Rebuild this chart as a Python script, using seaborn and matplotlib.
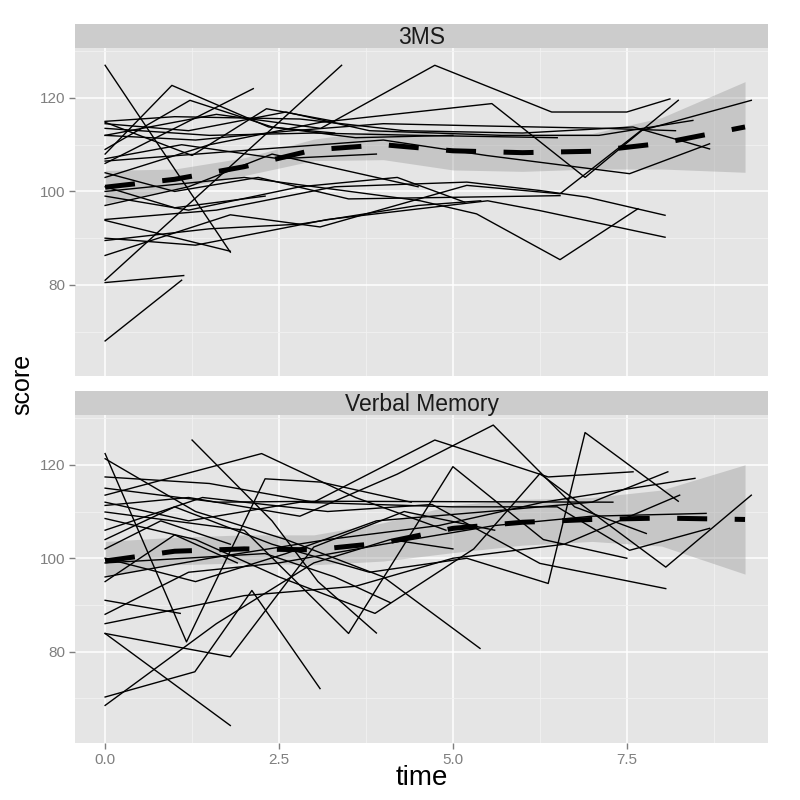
import matplotlib
matplotlib.use("Agg")
import matplotlib.pyplot as plt
import pandas as pd
import seaborn as sns

# 3MS: one list of visit times and scores per subject
ms_times = [
    [0, 1.8], [0, 1.13], [0, 1.1], [0, 3.4], [0, 0.96, 2.35, 3.3], [0, 2.13],
    [0, 1.22, 2.4, 3.6, 5.0], [0, 1.25, 2.32, 3.3],
    [0, 1.6, 3.1, 4.74, 6.42, 7.5, 8.12], [0, 1.5, 3.1, 5.56, 6.9, 8.24],
    [0, 2.2, 4.0, 5.48, 7.54, 8.69], [0, 2.0, 4.53, 5.34, 6.54, 7.66],
    [0, 1.6, 3.3, 5.2, 6.25, 6.92, 8.05], [0, 1.3, 3.2, 5.5, 6.25, 8.05],
    [0, 1.8, 3.09, 5.2, 6.54, 7.7, 9.29], [0, 1.0, 2.8, 4.3, 6.0, 7.59, 8.69],
    [0, 1.2, 2.6, 3.8, 5.7, 7.1, 8.45], [0, 1.5, 3.0, 4.5, 6.5],
    [0, 1.0, 2.2, 3.5, 6.54], [0, 1.2, 2.8, 4.2, 5.17], [0, 1.8], [0, 1.0, 2.3],
    [0, 1.1, 2.5, 3.9], [0, 1.5, 2.8, 4.5, 5.4], [0, 1.3, 2.7, 4.0, 5.5, 7.2, 8.2],
    [0, 1.2, 2.4, 3.6, 4.5],
]
ms_scores = [
    [127, 87], [80.5, 82], [68, 81], [81, 127], [108, 122.7, 113.8, 112.5], [106, 122],
    [109, 119.5, 113.8, 111.5, 112], [114.8, 107.7, 117.7, 115],
    [112, 116.5, 113.5, 127, 117, 117, 119.8], [103, 110, 114.8, 118.8, 103, 119.5],
    [106.5, 109, 111, 107.7, 103.8, 110.2], [100, 103, 98, 95.2, 85.4, 96.3],
    [94, 96, 101, 102, 100.2, 98.8, 94.9], [90, 88.5, 94, 98, 95.9, 90.2],
    [86.3, 95, 92.4, 101.3, 99.5, 113, 119.5], [115, 116, 115.5, 113, 112.5, 113.8, 109.1],
    [114.5, 113, 117, 113, 112, 112, 115.2], [113.5, 112, 112.5, 112, 111.5],
    [104, 100, 103, 98.4, 99.1], [99, 96, 101, 103, 97.7], [93.8, 87.2], [101, 96.5, 99],
    [107, 110, 107, 108], [89.5, 92, 93, 97, 98], [112, 111, 113, 114.5, 114, 113.5, 113],
    [97, 101, 108, 104, 101],
]

# Verbal Memory
vm_times = [
    [0, 1.17, 2.3, 3.1, 4.4], [0, 2.25, 3.6, 4.9], [1.25, 2.4, 3.06, 3.9], [0, 1.8],
    [0, 1.29, 2.11, 3.09], [0, 1.6, 3.0, 4.1, 5.0], [0, 1.8, 3.0, 4.3, 5.6], [0, 1.08],
    [0, 1.3, 2.6, 4.0, 5.39], [0, 1.5, 3.0, 4.74, 6.37, 7.59],
    [0, 1.2, 2.8, 4.2, 5.58, 6.75, 7.78], [0, 2.0, 3.5, 5.0, 6.3, 7.5],
    [0, 1.3, 2.5, 3.88, 5.3, 6.25, 8.06, 9.29], [0, 1.0, 2.4, 3.8, 5.2, 6.37, 6.9, 8.24],
    [0, 1.4, 3.2, 4.7, 6.25, 8.06], [0, 1.2, 2.8, 5.0, 6.5, 7.54, 8.69],
    [0, 1.3, 2.6, 3.9, 5.5, 7.0, 8.09], [0, 1.5, 3.2, 4.8, 6.3, 8.48],
    [0, 1.2, 2.5, 4.0, 5.6, 7.0, 8.64], [0, 2.0, 3.6, 5.0, 6.6, 8.26], [0, 1.0, 1.9],
    [0, 1.6, 3.1, 7.3], [0, 0.8, 1.8], [0, 2.3, 3.3, 4.1],
]
vm_scores = [
    [122.4, 82.1, 117, 116.3, 112], [113.5, 122.4, 113, 106], [125.3, 108, 95, 84], [83.9, 64.2],
    [70.3, 75.7, 93.1, 72.1], [68.5, 86, 99, 104, 102], [83.9, 78.9, 102.4, 110, 106], [91, 88.2],
    [121.3, 110, 104, 96, 80.7], [117.4, 116, 112, 125.3, 117.4, 118.5],
    [111.3, 113, 109, 118, 128.5, 111, 105.3], [109.9, 106, 83.9, 119.6, 104, 100],
    [108.5, 104, 96, 88.2, 102, 118.1, 98.1, 113.5], [104, 111, 103, 97, 100, 94.6, 126.9, 112.2],
    [106, 113, 110, 111.5, 98.9, 93.5], [112, 108, 112, 111, 111, 101.7, 106.4],
    [100, 95, 101, 108, 110, 112, 118.5], [96, 100, 104, 107, 112, 117.1],
    [88, 97, 99, 103, 107, 109, 109.6], [86, 92, 94, 100, 103, 113.5], [95, 105, 99],
    [115, 112, 112.2, 112], [102, 108, 103], [99, 101, 96, 90.5],
]

# loess fit and its band
smooth_time = [0, 1, 2, 3, 4, 5, 6, 7, 8, 9.2]
ms_fit = [100.9, 102.6, 105.3, 108.9, 110.0, 108.7, 108.3, 108.6, 110.3, 113.8]
ms_lo = [97.4, 100.6, 103.4, 106.6, 106.8, 104.6, 104.3, 104.8, 104.8, 104.1]
ms_hi = [104.5, 104.8, 107.2, 111.2, 113.2, 112.8, 112.3, 112.4, 115.8, 123.5]
vm_fit = [99.4, 101.5, 102.0, 101.8, 103.3, 106.4, 107.7, 108.3, 108.6, 108.3]
vm_lo = [96.2, 98.6, 99.0, 98.6, 99.4, 101.2, 102.8, 103.6, 102.6, 96.6]
vm_hi = [103.6, 104.5, 105.0, 105.0, 107.6, 111.4, 112.6, 113.0, 114.6, 120.0]

panels = ["3MS", "Verbal Memory"]


def long_form(times, scores):
    rows = []
    for i, (ts, ss) in enumerate(zip(times, scores)):
        for t, s in zip(ts, ss):
            rows.append((i, t, s))
    return pd.DataFrame(rows, columns=["subject", "time", "score"])


data = {
    "3MS": (long_form(ms_times, ms_scores), ms_fit, ms_lo, ms_hi),
    "Verbal Memory": (long_form(vm_times, vm_scores), vm_fit, vm_lo, vm_hi),
}

plt.rcParams['font.family'] = ['Liberation Sans', 'DejaVu Sans']
fig = plt.figure(figsize=(8, 8), dpi=100)

left, width = 0.094, 0.866
panel_h, strip_h = 0.41, 0.03
panel_bottoms = [0.53, 0.0715]

for k, name in enumerate(panels):
    df, fit, lo, hi = data[name]
    ax = fig.add_axes([left, panel_bottoms[k], width, panel_h])
    sax = fig.add_axes([left, panel_bottoms[k] + panel_h, width, strip_h])
    sax.set_facecolor('#CCCCCC')
    sax.set_xticks([])
    sax.set_yticks([])
    for sp in sax.spines.values():
        sp.set_visible(False)
    sax.text(0.5, 0.45, name, ha='center', va='center', fontsize=16.5, color='#1A1A1A',
             transform=sax.transAxes)

    ax.set_facecolor('#E5E5E5')
    for sp in ax.spines.values():
        sp.set_visible(False)
    ax.set_xlim(-0.43, 9.53)
    ax.set_ylim(60.5, 130.7)
    ax.set_xticks([0, 2.5, 5.0, 7.5])
    ax.set_yticks([80, 100, 120])
    ax.set_xticks([1.25, 3.75, 6.25, 8.75], minor=True)
    ax.set_yticks([70, 90, 110, 130], minor=True)
    ax.grid(which='major', color='white', lw=1.1)
    ax.grid(which='minor', color='#F2F2F2', lw=0.6)
    ax.set_axisbelow(True)

    sns.lineplot(data=df, x='time', y='score', units='subject', estimator=None,
                 color='black', lw=1.0, ax=ax, legend=False)
    ax.fill_between(smooth_time, lo, hi, color='#999999', alpha=0.4, lw=0)
    sns.lineplot(x=smooth_time, y=fit, color='black', lw=3.6, dashes=False, ax=ax)
    ax.lines[-1].set_dashes((6, 5.5))

    ax.set_xlabel('')
    ax.set_ylabel('')
    ax.set_yticklabels(['80', '100', '120'])
    ax.tick_params(which='major', length=4, width=1, color='#7F7F7F',
                   labelcolor='#7F7F7F', labelsize=11, pad=3)
    ax.tick_params(which='minor', length=0)
    if k == 0:
        ax.tick_params(axis='x', which='major', length=0, labelbottom=False)
    else:
        ax.set_xticklabels(['0.0', '2.5', '5.0', '7.5'])

fig.text(0.028, 0.52, 'score', rotation=90, ha='center', va='center', fontsize=18)
fig.text(0.527, 0.027, 'time', ha='center', va='center', fontsize=20)

fig.savefig('out.png', dpi=100)
